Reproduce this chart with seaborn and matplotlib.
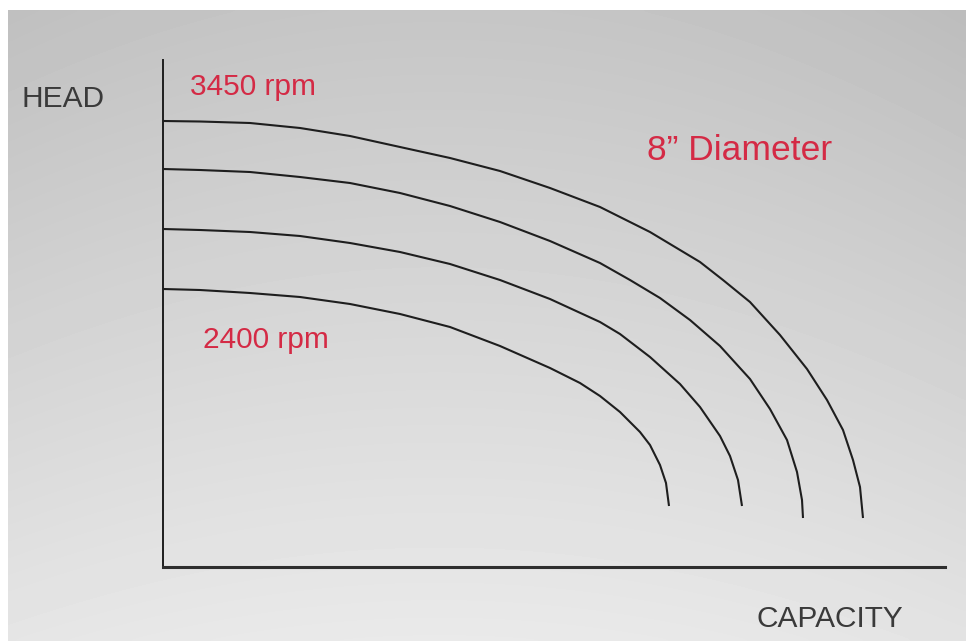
"""Pump performance curves: head vs capacity at several speeds, 8 inch impeller."""

import numpy as np
import pandas as pd
import seaborn as sns
import matplotlib.pyplot as plt

# Curves (capacity and head in arbitrary units)
cap_3450 = [0, 37, 87, 137, 187, 237, 287, 337, 387, 437, 487, 537, 560, 587, 617,
            644, 664, 680, 690, 697, 700]
head_3450 = [446, 445.5, 444, 439, 431, 420, 409, 396, 379, 360, 335, 305, 287, 265, 232,
             198, 167, 137, 107, 80, 49]

cap_3100 = [0, 37, 87, 137, 187, 237, 287, 337, 387, 437, 467, 497, 527, 557, 587,
            607, 624, 634, 639, 640]
head_3100 = [398, 397, 395, 390, 384, 374, 361, 345, 326, 304, 287, 269, 247, 221, 188,
             158, 127, 95, 67, 49]

cap_2750 = [0, 37, 87, 137, 187, 237, 287, 337, 387, 437, 457, 487, 517, 537, 557,
            567, 575, 579]
head_2750 = [338, 337, 335, 331, 324, 315, 303, 287, 268, 245, 233, 210, 183, 160, 131,
             111, 87, 61]

cap_2400 = [0, 37, 87, 137, 187, 237, 287, 337, 387, 417, 437, 457, 477, 487, 497,
            503, 506]
head_2400 = [278, 277, 274, 270, 263, 253, 240, 221, 199, 184, 171, 155, 135, 122, 102,
             84, 61]

speeds = ["3450 rpm", "3100 rpm", "2750 rpm", "2400 rpm"]
caps = [cap_3450, cap_3100, cap_2750, cap_2400]
heads = [head_3450, head_3100, head_2750, head_2400]

frames = []
for name, c, h in zip(speeds, caps, heads):
    frames.append(pd.DataFrame({"capacity": c, "head": h, "speed": name}))
df = pd.concat(frames, ignore_index=True)

sns.set_theme(style="white")
plt.rcParams["font.family"] = ["Liberation Sans", "DejaVu Sans"]

W, H = 966, 641
fig = plt.figure(figsize=(W / 100, H / 100), dpi=100)
fig.patch.set_facecolor("white")

# gray gradient backdrop (white strip on top and left)
bg = fig.add_axes([8 / W, 0, 1 - 8 / W, 1 - 10 / H], zorder=-5)
yy, xx = np.mgrid[0:1:200j, 0:1:300j]
shade = 0.775 + 0.14 * yy - 0.03 * ((xx - 0.45) * 2) ** 2 * (1 - 0.3 * yy)
bg.imshow(shade, cmap="gray", vmin=0, vmax=1, aspect="auto",
          extent=[0, 1, 0, 1], origin="upper", interpolation="bicubic")
bg.set_axis_off()

# main axes, origin at (163, 567) px
x0, y0, x1, y1 = 163, 567, 945, 60
ax = fig.add_axes([x0 / W, (H - y0) / H, (x1 - x0) / W, (y0 - y1) / H])
ax.set_facecolor("none")

sns.lineplot(data=df, x="capacity", y="head", hue="speed", units="speed",
             estimator=None, sort=False, palette=["#1e1e1e"] * 4,
             linewidth=1.5, legend=False, ax=ax,
             solid_joinstyle="round", solid_capstyle="butt")

ax.set_xlim(0, x1 - x0)
ax.set_ylim(0, y0 - y1)
ax.set_xticks([])
ax.set_yticks([])
ax.set_xlabel("")
ax.set_ylabel("")
for side in ["top", "right"]:
    ax.spines[side].set_visible(False)
ax.spines["left"].set_color("#1e1e1e")
ax.spines["left"].set_linewidth(1.4)
ax.spines["bottom"].set_color("#2e2e2e")
ax.spines["bottom"].set_linewidth(2.2)


def put(px, py, s, color, size):
    fig.text(px / W, 1 - py / H, s, color=color, fontsize=size,
             ha="left", va="baseline")


red = "#d42a45"
put(22, 107, "HEAD", "#3a3a3a", 21.5)
put(757, 627, "CAPACITY", "#3a3a3a", 21.5)
put(190, 95, "3450 rpm", red, 21.5)
put(203, 348, "2400 rpm", red, 21.5)
put(647, 160, "8\u201d Diameter", red, 25.5)

fig.savefig("out.png", dpi=100)
